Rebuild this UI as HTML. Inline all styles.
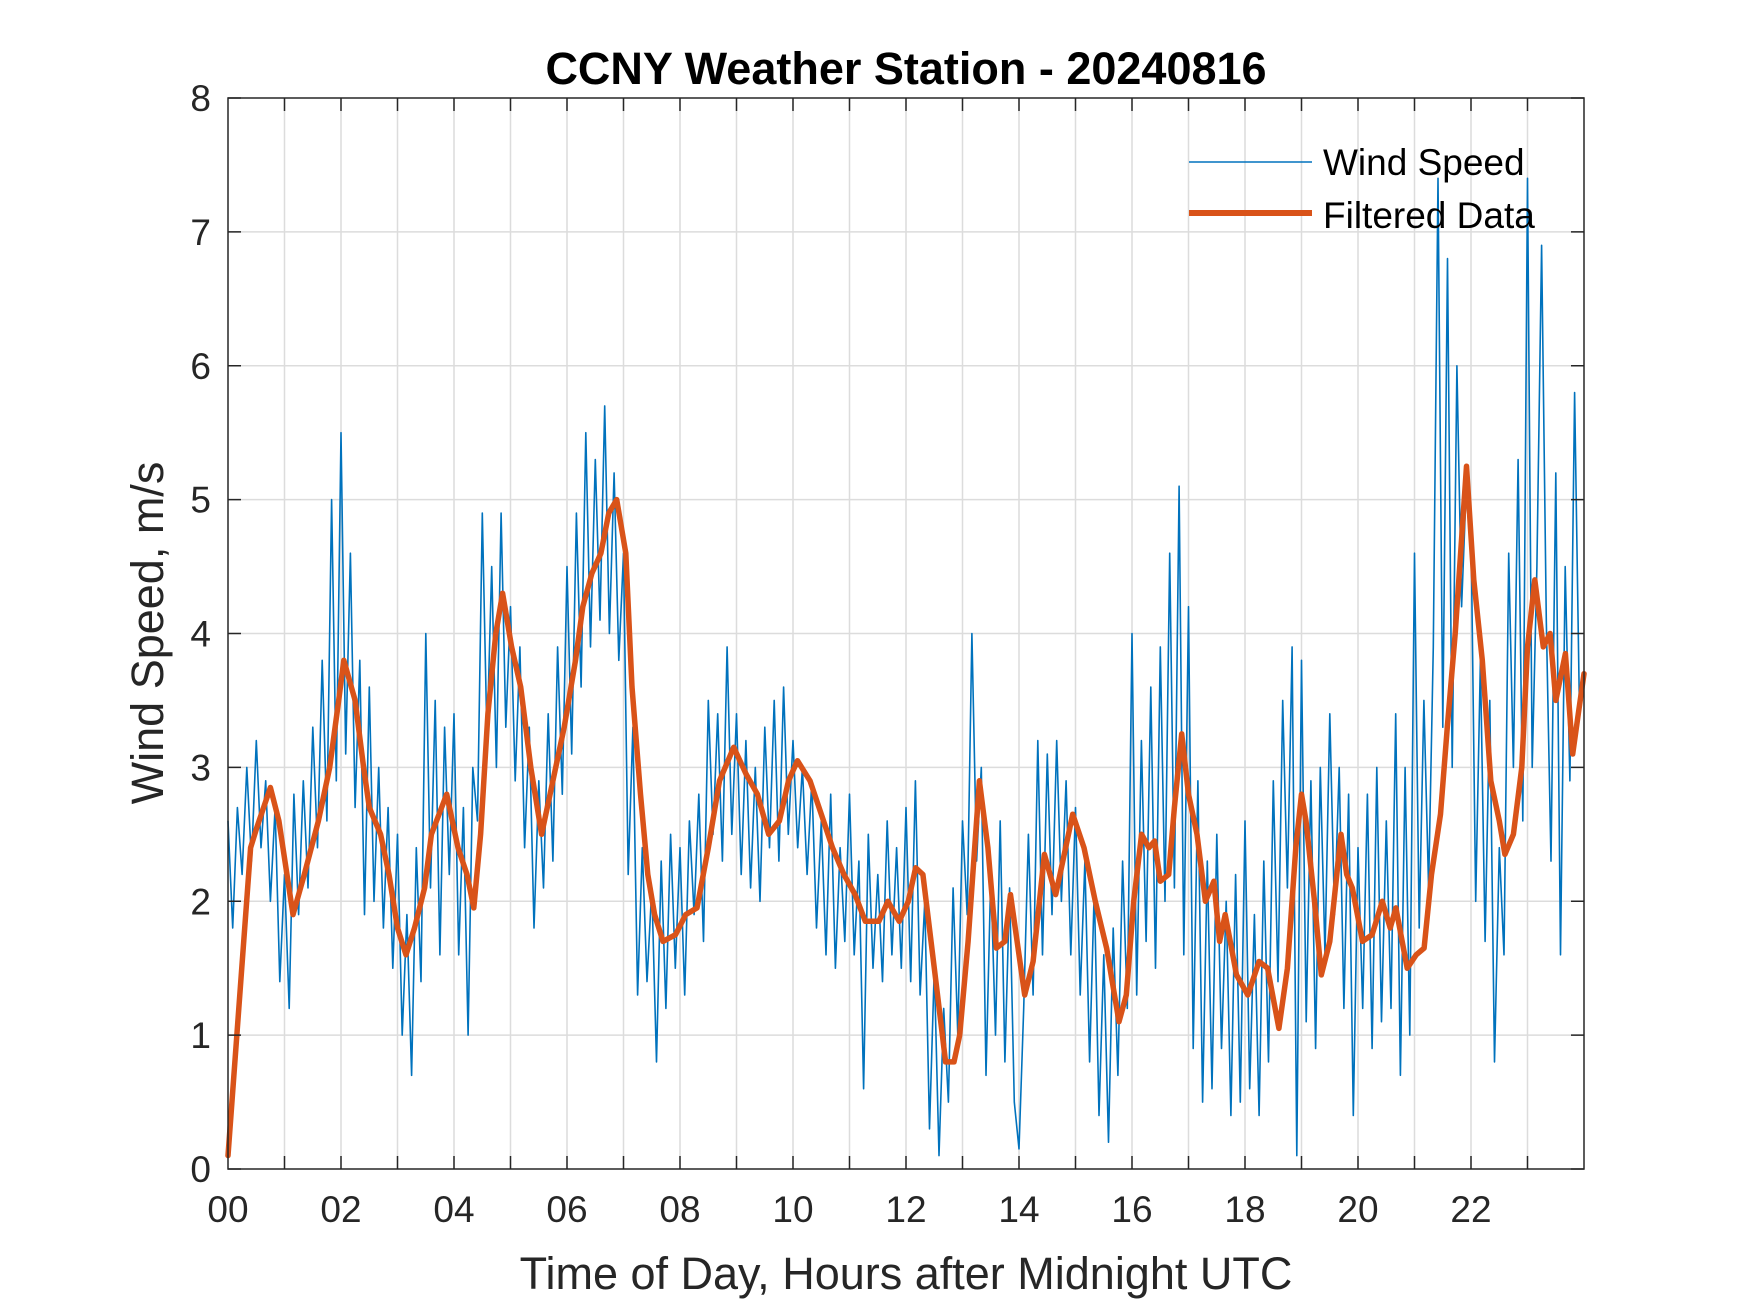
<!DOCTYPE html>
<html><head><meta charset="utf-8"><style>
body{margin:0;background:#fff}
svg{display:block;font-family:"Liberation Sans",sans-serif}
</style></head><body>
<svg id="chart" width="1750" height="1313" viewBox="0 0 1750 1313" xmlns="http://www.w3.org/2000/svg">
<rect width="1750" height="1313" fill="#fff"/>
<g id="grid"></g>
<g id="series"></g>
<rect x="228" y="98" width="1356" height="1071" fill="none" stroke="#262626" stroke-width="1.5"/>
<g id="ticks"></g>
<text x="906" y="84" text-anchor="middle" font-size="45" font-weight="bold" fill="#000">CCNY Weather Station - 20240816</text>
<text x="906" y="1289" text-anchor="middle" font-size="45" fill="#262626">Time of Day, Hours after Midnight UTC</text>
<text transform="translate(163,633) rotate(-90)" text-anchor="middle" font-size="45" fill="#262626">Wind Speed, m/s</text>
<g>
<line x1="1189" y1="162" x2="1312" y2="162" stroke="#0072BD" stroke-width="1.5"/>
<text x="1323" y="175" font-size="37" fill="#000">Wind Speed</text>
<line x1="1189" y1="213" x2="1312" y2="213" stroke="#D95319" stroke-width="6"/>
<text x="1323" y="228" font-size="37" fill="#000">Filtered Data</text>
</g>
</svg>
<script>
const rawSpeed = [
2.6,1.8,2.7,2.2,3.0,2.3,3.2,2.4,2.9,2.0,2.7,1.4,
2.2,1.2,2.8,1.9,2.9,2.1,3.3,2.4,3.8,2.6,5.0,2.9,
5.5,3.1,4.6,2.7,3.8,1.9,3.6,2.0,3.0,1.8,2.7,1.5,
2.5,1.0,1.9,0.7,2.4,1.4,4.0,2.1,3.5,1.6,3.3,2.2,
3.4,1.6,2.7,1.0,3.0,2.6,4.9,3.2,4.5,3.0,4.9,3.3,
4.2,2.9,3.9,2.4,3.3,1.8,2.9,2.1,3.4,2.3,3.9,2.8,
4.5,3.1,4.9,3.6,5.5,3.9,5.3,4.1,5.7,4.0,5.2,3.8,
4.6,2.2,3.3,1.3,2.4,1.4,2.1,0.8,2.3,1.2,2.5,1.5,
2.4,1.3,2.6,1.9,2.8,1.7,3.5,2.5,3.4,2.3,3.9,2.5,
3.4,2.2,3.2,2.1,3.0,2.0,3.3,2.4,3.5,2.3,3.6,2.5,
3.2,2.4,3.0,2.2,2.9,1.8,2.6,1.6,2.8,1.5,2.4,1.7,
2.8,1.6,2.3,0.6,2.5,1.5,2.2,1.4,2.6,1.6,2.4,1.5,
2.7,1.4,2.9,1.3,2.0,0.3,1.5,0.1,1.2,0.5,2.1,1.0,
2.6,1.9,4.0,2.3,3.0,0.7,2.2,1.0,2.6,0.8,2.1,0.5,
0.15,1.2,2.5,1.3,3.2,1.6,3.1,1.9,3.2,2.0,2.9,1.6,
2.7,1.3,2.3,0.8,2.1,0.4,1.6,0.2,1.8,0.7,2.3,1.2,
4.0,1.3,3.2,1.7,3.6,1.5,3.9,2.0,4.6,2.1,5.1,1.6,
4.2,0.9,2.9,0.5,2.3,0.6,2.5,0.9,2.0,0.4,2.2,0.5,
2.6,0.6,1.9,0.4,2.3,0.8,2.9,1.4,3.5,2.1,3.9,0.1,
3.8,1.1,2.9,0.9,3.0,1.6,3.4,1.9,3.0,1.2,2.8,0.4,
2.4,1.2,2.8,0.9,3.0,1.1,2.6,1.2,3.4,0.7,3.0,1.0,
4.6,1.8,3.5,2.1,3.9,7.4,3.3,6.8,3.0,6.0,4.2,5.1,
4.8,2.0,3.8,1.7,3.5,0.8,2.4,1.6,4.6,3.0,5.3,2.6,
7.4,3.0,4.5,6.9,4.1,2.3,5.2,1.6,4.5,2.9,5.8,3.5];
const filtHours = [0,0.4,0.51,0.75,0.9,1.15,1.35,1.6,1.8,1.96,2.05,2.25,2.4,2.5,2.7,2.85,3.0,3.15,3.3,3.48,3.6,3.87,4.07,4.23,4.35,4.47,4.6,4.74,4.86,5.02,5.18,5.36,5.55,5.75,5.95,6.15,6.28,6.44,6.6,6.74,6.88,7.04,7.15,7.3,7.43,7.55,7.7,7.92,8.1,8.3,8.5,8.7,8.95,9.17,9.37,9.57,9.76,9.92,10.08,10.3,10.5,10.7,10.9,11.1,11.28,11.52,11.68,11.88,12.04,12.17,12.3,12.5,12.7,12.85,12.95,13.1,13.3,13.45,13.6,13.75,13.85,14.0,14.1,14.25,14.45,14.65,14.75,14.95,15.15,15.35,15.55,15.77,15.9,16.03,16.17,16.3,16.4,16.5,16.65,16.75,16.88,17.0,17.15,17.3,17.45,17.55,17.65,17.85,18.05,18.25,18.4,18.6,18.75,18.9,19.0,19.08,19.23,19.35,19.5,19.7,19.8,19.9,20.08,20.25,20.43,20.57,20.67,20.87,21.03,21.17,21.3,21.46,21.58,21.72,21.92,22.05,22.2,22.35,22.5,22.6,22.75,22.9,23.0,23.13,23.28,23.4,23.5,23.67,23.8,23.9,24.0];
const filtSpeed = [0.1,2.4,2.55,2.85,2.6,1.9,2.2,2.6,3.0,3.5,3.8,3.5,3.0,2.7,2.5,2.2,1.8,1.6,1.8,2.1,2.5,2.8,2.4,2.2,1.95,2.5,3.4,4.0,4.3,3.9,3.6,3.0,2.5,2.9,3.3,3.8,4.2,4.45,4.6,4.9,5.0,4.6,3.6,2.8,2.2,1.9,1.7,1.75,1.9,1.95,2.4,2.9,3.15,2.95,2.8,2.5,2.6,2.9,3.05,2.9,2.65,2.4,2.2,2.05,1.85,1.85,2.0,1.85,2.0,2.25,2.2,1.5,0.8,0.8,1.0,1.7,2.9,2.4,1.65,1.7,2.05,1.6,1.3,1.55,2.35,2.05,2.25,2.65,2.4,2.0,1.65,1.1,1.3,2.0,2.5,2.4,2.45,2.15,2.2,2.7,3.25,2.8,2.5,2.0,2.15,1.7,1.9,1.45,1.3,1.55,1.5,1.05,1.5,2.4,2.8,2.6,2.0,1.45,1.7,2.5,2.2,2.1,1.7,1.75,2.0,1.8,1.95,1.5,1.6,1.65,2.2,2.65,3.3,4.0,5.25,4.4,3.8,2.9,2.6,2.35,2.5,3.0,3.9,4.4,3.9,4.0,3.5,3.85,3.1,3.4,3.7];
const xTickLabels = ["00","02","04","06","08","10","12","14","16","18","20","22"];
const yTickLabels = ["0","1","2","3","4","5","6","7","8"];

const NS="http://www.w3.org/2000/svg";
const L=228,R=1584,T=98,B=1169;
const xs=h=>L+(R-L)*h/24;
const ys=v=>B-(B-T)*v/8;
function mk(tag,attrs,parent){const e=document.createElementNS(NS,tag);for(const k in attrs)e.setAttribute(k,attrs[k]);parent.appendChild(e);return e;}
const grid=document.getElementById('grid'),ticks=document.getElementById('ticks'),series=document.getElementById('series');
for(let h=1;h<24;h++){
  const l=mk('line',{x1:xs(h),x2:xs(h),y1:T,y2:B,stroke:'#dcdcdc','stroke-width':1.5},grid);
  
  
  const t1=mk('line',{x1:xs(h),x2:xs(h),y1:B,y2:B-13,stroke:'#262626','stroke-width':1.5},ticks);
  
  
  const t2=mk('line',{x1:xs(h),x2:xs(h),y1:T,y2:T+13,stroke:'#262626','stroke-width':1.5},ticks);
  
  
}
xTickLabels.forEach((s,i)=>{
  const t=mk('text',{x:xs(i*2),y:B+53,'text-anchor':'middle','font-size':37,fill:'#262626'},ticks);
  t.textContent=s;
  
  
});
yTickLabels.forEach((s,i)=>{
  const v=+s;
  if(v>0&&v<8){
    const g=mk('line',{x1:L,x2:R,y1:ys(v),y2:ys(v),stroke:'#dcdcdc','stroke-width':1.5},grid);
    
    
  }
  const a=mk('line',{x1:L,x2:L+13,y1:ys(v),y2:ys(v),stroke:'#262626','stroke-width':1.5},ticks);
  
  
  const b=mk('line',{x1:R,x2:R-13,y1:ys(v),y2:ys(v),stroke:'#262626','stroke-width':1.5},ticks);
  
  
  const t=mk('text',{x:L-17,y:ys(v)+13,'text-anchor':'end','font-size':37,fill:'#262626'},ticks);
  t.textContent=s;
  
  
});
const rawPts=rawSpeed.map((v,i)=>xs(i*24/rawSpeed.length).toFixed(1)+','+ys(v).toFixed(1)).join(' ');
const p1=mk('polyline',{points:rawPts,fill:'none',stroke:'#0072BD','stroke-width':1.6,'stroke-linejoin':'round'},series);


const fPts=filtSpeed.map((v,i)=>xs(filtHours[i]).toFixed(1)+','+ys(v).toFixed(1)).join(' ');
const p2=mk('polyline',{points:fPts,fill:'none',stroke:'#D95319','stroke-width':5.5,'stroke-linejoin':'round','stroke-linecap':'round'},series);


</script>
</body></html>
